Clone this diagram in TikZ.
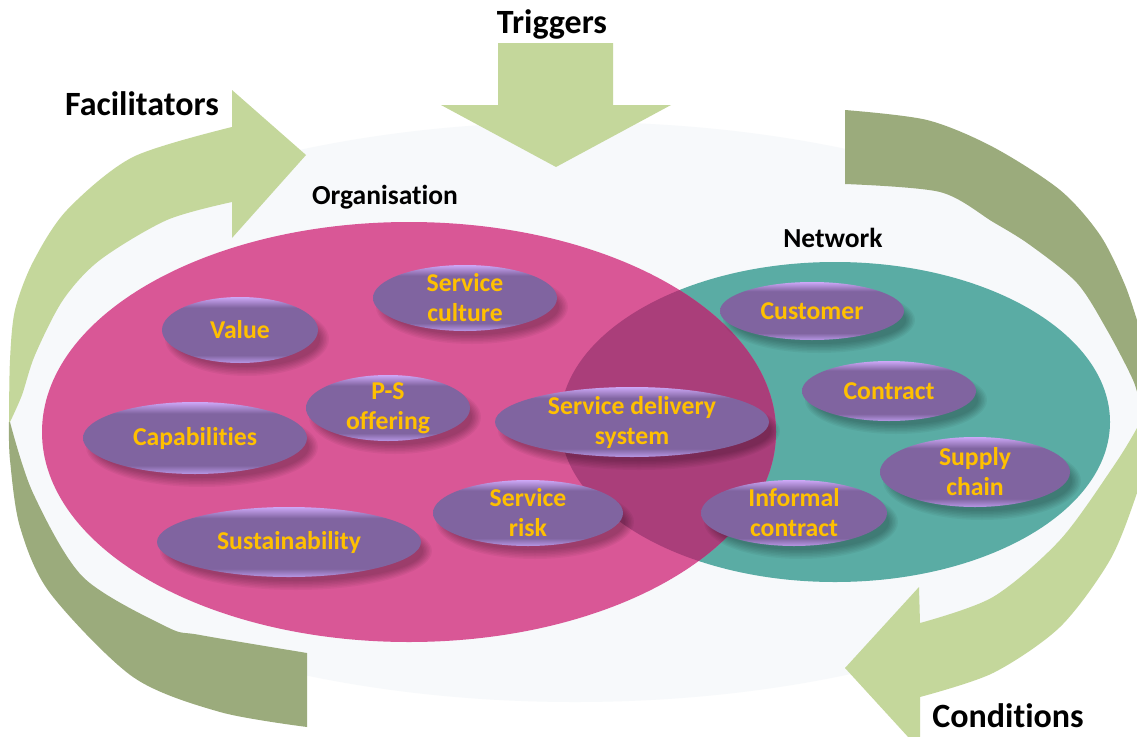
\documentclass[tikz,border=0pt]{standalone}
\usepackage{fontspec}
\setmainfont{Carlito}[Ligatures=NoCommon]
\usetikzlibrary{calc}
\definecolor{bggrey}{HTML}{F7F9FB}
\definecolor{lgreen}{HTML}{C4D79B}
\definecolor{dgreen}{HTML}{9BAB7C}
\definecolor{orgpink}{HTML}{D95796}
\definecolor{netteal}{HTML}{5AACA4}
\definecolor{overlapc}{HTML}{AA3E7A}
\definecolor{pillM}{HTML}{8064A0}
\definecolor{pillT}{HTML}{CDA8F7}
\definecolor{pillB}{HTML}{B898E6}
\definecolor{txtorange}{HTML}{FFC000}
\pgfdeclareverticalshading{pillshade}{100bp}{color(0bp)=(pillB); color(25bp)=(pillB); color(31bp)=(pillM); color(67bp)=(pillM); color(75bp)=(pillT); color(100bp)=(pillT)}
\tikzset{
  pilltext/.style={text=txtorange, font=\bfseries\fontsize{25.7}{30}\selectfont, align=center, inner sep=0pt},
  biglabel/.style={font=\bfseries\fontsize{34}{40}\selectfont, text=black, inner sep=0pt, anchor=base},
  setlabel/.style={font=\bfseries\fontsize{27.5}{32}\selectfont, text=black, inner sep=0pt, anchor=base},
  pillshadow/.style={fill=black, opacity=0.045},
  arrowlight/.style={fill=lgreen},
  arrowdark/.style={fill=dgreen},
}
\newcommand\pillnode[5]{%
  \foreach \k in {0,...,6}{\fill[pillshadow] ($(#2)+(7,9)$) ellipse ({(#3+4-1.5*\k)*1pt} and {(#4+4-1.5*\k)*1pt});}
  \shade[shading=pillshade] (#2) ellipse (#3pt and #4pt);
  \node[pilltext] (#1) at (#2) {#5};
}
\begin{document}
\begin{tikzpicture}[x=1pt,y=-1pt]
\useasboundingbox (0,0) rectangle (1137,736);
\clip (0,0) rectangle (1137,736);
\fill[white] (0,0) rectangle (1137,736);
% background ellipse
\begin{scope}
  \clip (575,412) ellipse (566pt and 400pt);
  \fill[bggrey] (575,412) ellipse (642pt and 290pt);
\end{scope}
% Facilitators arrow: side (dark) and top face with head (light)
\fill[arrowdark] plot[smooth] coordinates {(9,422) (10,460) (20,527) (50,593) (133,677) (220,712) (307,727)}
  -- (307,653) -- plot[smooth] coordinates {(307,653) (200,635) (167,627) (83,577) (33,493) (10,422)} -- cycle;
\fill[arrowlight] (232,90) -- (306,155) -- (232,238) -- (232,202)
  -- plot[smooth] coordinates {(232,202) (167,220) (100,260) (63,300) (35,355) (22,395) (10,422)}
  -- plot[smooth] coordinates {(9,422) (10,360) (15,310) (33,262) (67,210) (133,157) (232,127)} -- cycle;
% Conditions arrow
\fill[arrowdark] plot[smooth] coordinates {(845,110) (927,120) (993,147) (1060,190) (1100,235) (1125,285) (1140,330)}
  -- (1160,330) -- (1160,405)
  -- plot[smooth] coordinates {(1140,405) (1133,380) (1107,330) (1077,283) (1030,245) (993,222) (940,192) (845,184)} -- cycle;
\fill[arrowlight] (919,587) -- (845,668) -- (920,750) -- (920,697)
  -- plot[smooth] coordinates {(920,697) (993,673) (1060,627) (1110,560) (1137,493) (1152,440)}
  -- (1160,440) -- (1160,400)
  -- plot[smooth] coordinates {(1150,400) (1137,428) (1113,467) (1060,540) (993,597) (920,623)} -- cycle;
% Triggers arrow
\fill[arrowlight] (498,43) -- (613,43) -- (613,105) -- (671,105) -- (556,167) -- (441,105) -- (498,105) -- cycle;
% sets
\fill[netteal] (835,422) ellipse (275pt and 160pt);
\fill[orgpink] (409,432) ellipse (367pt and 210pt);
\begin{scope}
  \clip (409,432) ellipse (367pt and 210pt);
  \fill[overlapc] (835,422) ellipse (275pt and 160pt);
\end{scope}
% labels
\node[biglabel] (trig) at (552,33) {Triggers};
\node[biglabel] (facil) at (142,115) {Facilitators};
\node[biglabel] (cond) at (1008,727) {Conditions};
\node[setlabel] (org) at (385,204) {Organisation};
\node[setlabel] (net) at (833,247) {Network};
% pills
\pillnode{sc}{465,298}{92}{33}{Service\\culture}
\pillnode{val}{240,330}{78}{33}{Value}
\pillnode{ps}{388,408}{82}{33}{P-S\\offering}
\pillnode{cap}{195,438}{112}{36}{Capabilities}
\pillnode{sus}{289,542}{132}{35}{Sustainability}
\pillnode{sds}{632,422}{137}{35}{Service delivery\\system}
\pillnode{sr}{528,513}{95}{33}{Service\\risk}
\pillnode{ic}{794,513}{93}{33}{Informal\\contract}
\pillnode{cus}{812,311}{92}{29}{Customer}
\pillnode{con}{889,391}{87}{30}{Contract}
\pillnode{sup}{975,472}{95}{35}{Supply\\chain}
\end{tikzpicture}
\end{document}
